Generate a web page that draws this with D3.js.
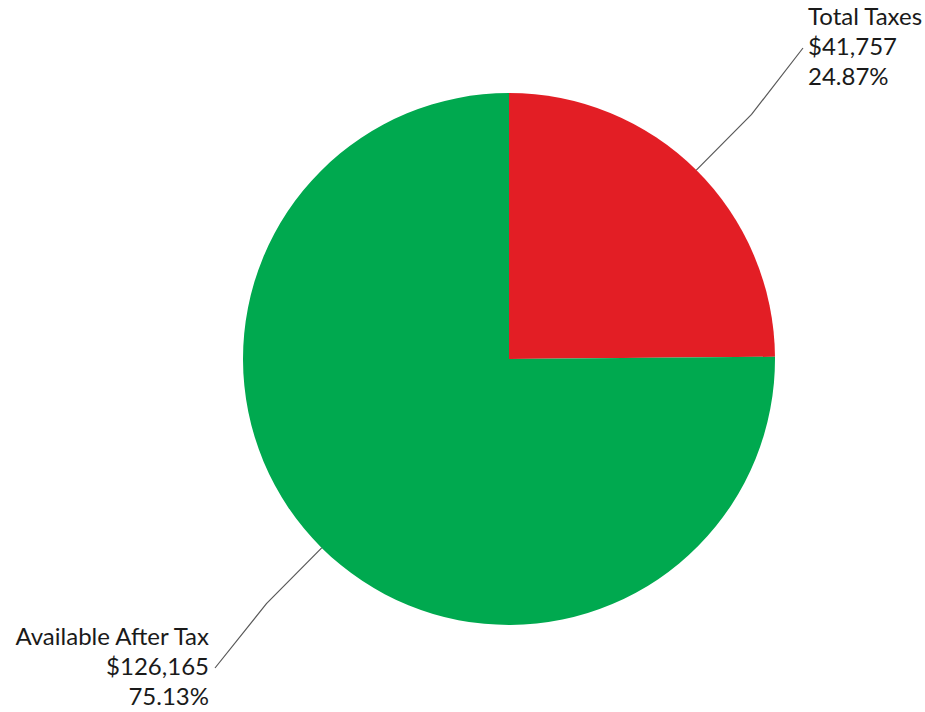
<!DOCTYPE html>
<html>
<head>
<meta charset="utf-8">
<script src="https://cdn.jsdelivr.net/npm/d3@7"></script>
<style>
  html, body { margin: 0; padding: 0; background: #fff; }
  svg { display: block; }
  text { font-family: Lato, "Open Sans", sans-serif; fill: #1a1a1a; }
</style>
</head>
<body>
<svg id="chart" width="925" height="712"></svg>
<script>
// Income split: taxes vs. what remains
const categories = ["Total Taxes", "Available After Tax"];
const amounts = [41757, 126165];
const percentLabels = ["24.87%", "75.13%"];
const sliceColors = ["#e31e25", "#00a94f"];

const svg = d3.select("#chart");
const cx = 509, cy = 359, radius = 266;

const data = categories.map((c, i) => ({ name: c, value: amounts[i], pct: percentLabels[i], color: sliceColors[i] }));

const pie = d3.pie().sort(null).value(d => d.value);
const arcs = pie(data);
const arc = d3.arc().innerRadius(0).outerRadius(radius);

const g = svg.append("g").attr("transform", `translate(${cx},${cy})`);

g.selectAll("path.slice")
  .data(arcs)
  .join("path")
  .attr("class", "slice")
  .attr("d", arc)
  .attr("fill", d => d.data.color);

// Leader lines: edge of slice -> elbow -> label
const fmt = d3.format("$,");
const elbowArc = d3.arc().innerRadius(radius * 1.295).outerRadius(radius * 1.295);
const edgeArc = d3.arc().innerRadius(radius).outerRadius(radius);

const labelLayout = [
  { end: [803, 48], anchor: "start", x: 808, y: 25 },
  { end: [215, 668], anchor: "end", x: 209, y: 645 }
];

arcs.forEach((a, i) => {
  const p0 = edgeArc.centroid(a);
  const p1 = elbowArc.centroid(a);
  const L = labelLayout[i];
  const p2 = [L.end[0] - cx, L.end[1] - cy];
  g.append("polyline")
    .attr("points", [p0, p1, p2].map(p => p.join(",")).join(" "))
    .attr("fill", "none")
    .attr("stroke", "#595959")
    .attr("stroke-width", 1.2);

  const t = svg.append("text")
    .attr("text-anchor", L.anchor)
    .attr("font-size", 24);
  [a.data.name, fmt(a.data.value), a.data.pct].forEach((line, k) => {
    t.append("tspan").attr("x", L.x).attr("y", L.y + k * 30).text(line);
  });
});
</script>
</body>
</html>
